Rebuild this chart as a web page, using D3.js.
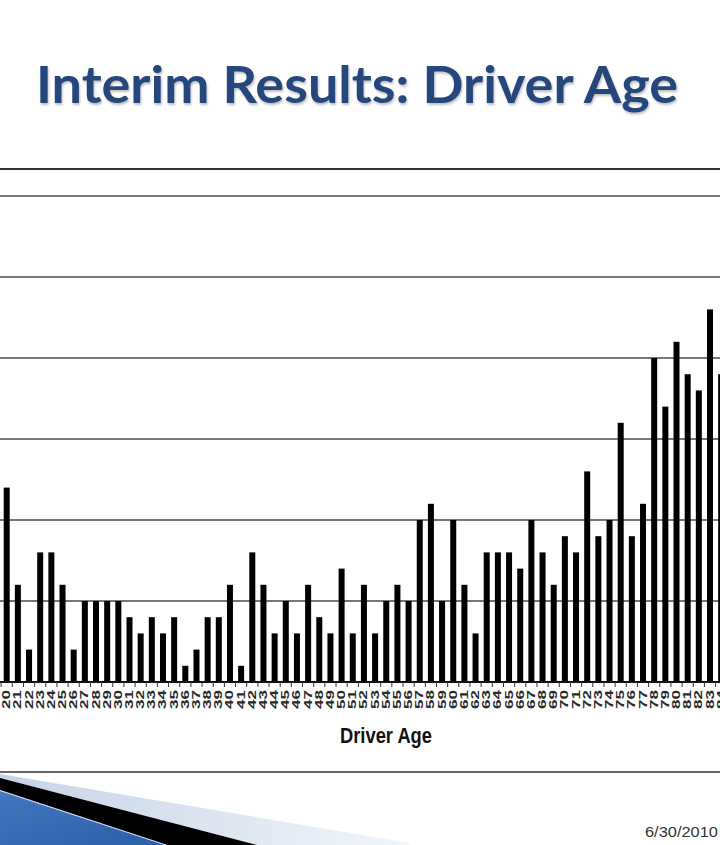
<!DOCTYPE html>
<html>
<head>
<meta charset="utf-8">
<script src="https://cdn.jsdelivr.net/npm/d3@7"></script>
<style>
  html, body { margin: 0; padding: 0; background: #fff; }
  svg { display: block; }
</style>
</head>
<body>
<svg id="chart" width="720" height="845"></svg>
<script>
// ---- data ----
const ages = [20,21,22,23,24,25,26,27,28,29,30,31,32,33,34,35,36,37,38,39,40,
  41,42,43,44,45,46,47,48,49,50,51,52,53,54,55,56,57,58,59,60,
  61,62,63,64,65,66,67,68,69,70,71,72,73,74,75,76,77,78,79,80,
  81,82,83,84];
const counts = [12,6,2,8,8,6,2,5,5,5,5,4,3,4,3,4,1,2,4,4,6,
  1,8,6,3,5,3,6,4,3,7,3,6,3,5,6,5,10,11,5,10,
  6,3,8,8,8,7,10,8,6,9,8,13,9,10,16,9,11,20,17,21,
  19,18,23,19];
const gridValues = [5,10,15,20,25,30];
const titleText = "Interim Results: Driver Age";
const xTitle = "Driver Age";
const dateText = "6/30/2010";

const svg = d3.select("#chart");
const W = 720;

// defs
const defs = svg.append("defs");
const g1 = defs.append("linearGradient").attr("id","lightBand").attr("x1","0").attr("y1","0").attr("x2","1").attr("y2","0");
g1.append("stop").attr("offset","0").attr("stop-color","#c5d3e7");
g1.append("stop").attr("offset","1").attr("stop-color","#f2f6fb");
const g2 = defs.append("linearGradient").attr("id","blueBand").attr("x1","0").attr("y1","0").attr("x2","1").attr("y2","1");
g2.append("stop").attr("offset","0").attr("stop-color","#4378c0");
g2.append("stop").attr("offset","1").attr("stop-color","#2a5ea8");
const sh = defs.append("filter").attr("id","tshadow").attr("x","-5%").attr("y","-20%").attr("width","110%").attr("height","150%");
sh.append("feDropShadow").attr("dx",1).attr("dy",2).attr("stdDeviation",1.2).attr("flood-color","#000").attr("flood-opacity",0.25);

// title
svg.append("text")
  .attr("x", 36).attr("y", 103)
  .attr("font-family", "Lato, 'Open Sans', sans-serif")
  .attr("font-weight", 700)
  .attr("font-size", 51)
  .attr("fill", "#27477c")
  .attr("textLength", 642)
  .attr("lengthAdjust", "spacingAndGlyphs")
  .attr("filter", "url(#tshadow)")
  .text(titleText);

// scales
const x = d3.scaleLinear().domain([20, 83]).range([6.7, 710]);
const step = x(21) - x(20);
const barW = 6;
const y = d3.scaleLinear().domain([0, 30]).range([682, 196]);

// frame top line
svg.append("line").attr("x1",0).attr("x2",W).attr("y1",169).attr("y2",169)
  .attr("stroke","#333").attr("stroke-width",2.2);

// gridlines
svg.append("g").selectAll("line").data(gridValues).join("line")
  .attr("x1",0).attr("x2",W)
  .attr("y1",d=>y(d)).attr("y2",d=>y(d))
  .attr("stroke","#4a4a4a").attr("stroke-width",1.6);

// bars
svg.append("g").selectAll("rect").data(ages.map((a,i)=>({a, v: counts[i]}))).join("rect")
  .attr("x", d => x(d.a) - barW/2)
  .attr("width", barW)
  .attr("y", d => y(d.v))
  .attr("height", d => y(0) - y(d.v))
  .attr("fill", "#000");

// baseline
svg.append("line").attr("x1",0).attr("x2",W).attr("y1",y(0)).attr("y2",y(0))
  .attr("stroke","#111").attr("stroke-width",2);

// tick marks between categories
svg.append("g").selectAll("line").data(ages).join("line")
  .attr("x1", d => x(d) - step/2).attr("x2", d => x(d) - step/2)
  .attr("y1", y(0)).attr("y2", y(0) + 5)
  .attr("stroke","#333").attr("stroke-width",1);

// tick labels
svg.append("g").selectAll("text").data(ages).join("text")
  .attr("transform", d => `translate(${x(d) + 3.5},${y(0) + 8}) rotate(-90)`)
  .attr("text-anchor", "end")
  .attr("font-family", "'Liberation Sans', Arial, sans-serif")
  .attr("font-weight", 700)
  .attr("font-size", 10)
  .attr("fill", "#2a2a2a")
  .attr("textLength", 19)
  .attr("lengthAdjust", "spacingAndGlyphs")
  .text(d => d);

// x title
svg.append("text")
  .attr("x", 340).attr("y", 743)
  .attr("font-family", "'Liberation Sans Narrow', 'Arial Narrow', 'Liberation Sans', sans-serif")
  .attr("font-weight", 700)
  .attr("font-size", 22)
  .attr("fill", "#111")
  .attr("textLength", 92)
  .attr("lengthAdjust", "spacingAndGlyphs")
  .text(xTitle);

// bottom separator
svg.append("line").attr("x1",0).attr("x2",W).attr("y1",772).attr("y2",772)
  .attr("stroke","#666").attr("stroke-width",2);

// decorative swoosh
svg.append("polygon").attr("points","0,774 410,843 410,845 0,845").attr("fill","url(#lightBand)");
svg.append("polygon").attr("points","0,778 257,845 167,845 0,790").attr("fill","#000");
svg.append("polygon").attr("points","0,791 165,845 0,845").attr("fill","url(#blueBand)");
svg.append("line").attr("x1",0).attr("y1",790.5).attr("x2",166).attr("y2",845)
  .attr("stroke","#cfdcee").attr("stroke-width",0.8);

// date
svg.append("text")
  .attr("x", 718).attr("y", 837)
  .attr("text-anchor","end")
  .attr("font-family", "'Liberation Sans', Arial, sans-serif")
  .attr("font-size", 15.5)
  .attr("fill", "#333")
  .attr("textLength", 73)
  .attr("lengthAdjust", "spacingAndGlyphs")
  .text(dateText);
</script>
</body>
</html>
